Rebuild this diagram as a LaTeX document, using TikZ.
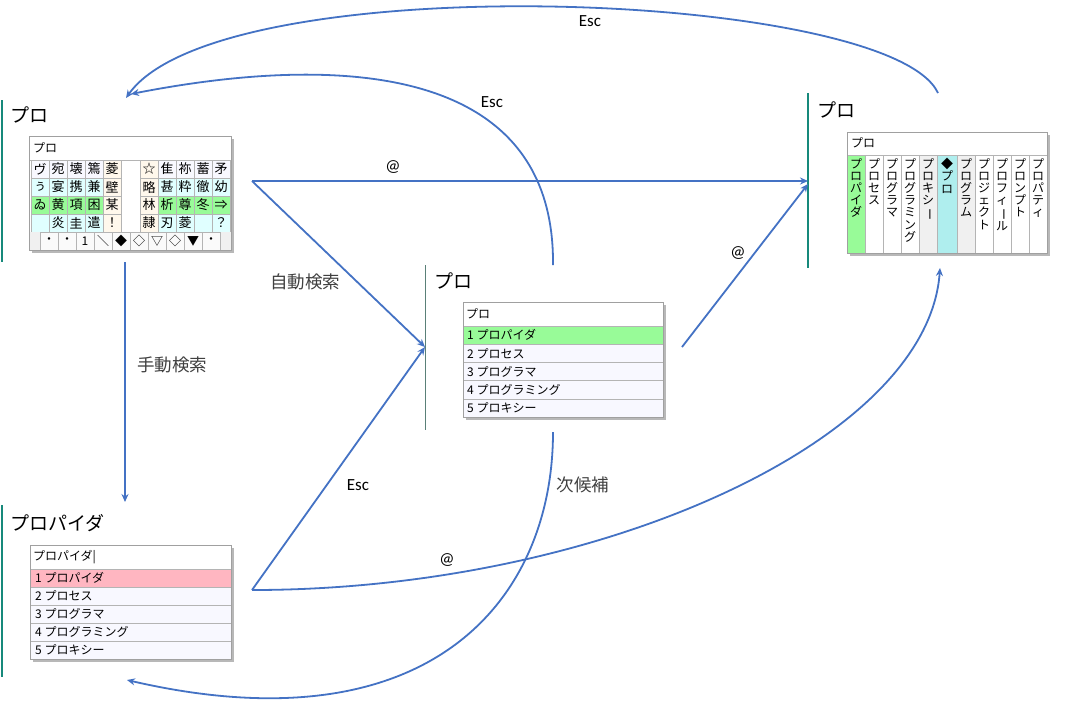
\documentclass[tikz,border=0pt]{standalone}
\usepackage{fontspec}
\usepackage{graphicx}
\setmainfont{Carlito}
\newfontfamily\jpfont{Noto Sans CJK JP}
\usetikzlibrary{calc, arrows.meta}

\definecolor{flowblue}{HTML}{4472C4}
\definecolor{panelteal}{HTML}{17897B}
\definecolor{panelgray}{HTML}{5A8078}
\definecolor{boxgray}{HTML}{A0A0A0}
\definecolor{cellgray}{HTML}{B4B4B4}
\definecolor{labelgray}{HTML}{404040}
\definecolor{rowgreen}{HTML}{98FB98}
\definecolor{rowcyan}{HTML}{E0FFFF}
\definecolor{rowcream}{HTML}{FFF8EC}
\definecolor{rowwhite}{HTML}{F8F8FF}
\definecolor{rowpink}{HTML}{FFB6C1}
\definecolor{rowturq}{HTML}{AFEEEE}
\definecolor{rowgray}{HTML}{F0F0F0}
\newcommand*\tatebar{\rotatebox[origin=c]{-90}{ー}}

\tikzset{
  flow/.style={draw=flowblue, line width=1.8pt, -{Stealth[length=8pt, width=7pt]}},
  keylabel/.style={font=\fontsize{17}{19}\selectfont, text=black},
  jplabel/.style={font=\jpfont\fontsize{17.5}{20}\selectfont, text=labelgray},
  paneltitle/.style={font=\jpfont\fontsize{19}{22}\selectfont, anchor=west, inner sep=0pt},
  panelline/.style={draw=panelteal, line width=1.8pt},
  listbox/.style={draw=boxgray, line width=0.9pt},
  boxshadow/.style={fill=black!28},
  cell/.style={draw=cellgray, line width=0.5pt, minimum width=18pt, minimum height=18pt,
    inner sep=0pt, font=\jpfont\fontsize{13}{13}\selectfont},
  rowtext/.style={font=\jpfont\fontsize{12}{12}\selectfont, anchor=west, inner sep=0pt},
  tatecol/.style={font=\jpfont\fontsize{12}{12.2}\selectfont, align=center, anchor=north, inner sep=0pt},
}

\begin{document}
\begin{tikzpicture}[x=1pt, y=-1pt]
        \useasboundingbox[fill=white] (0,0) rectangle (1067,702);

        % arrow end points
        \coordinate (gridout) at (252,181);
        \coordinate (vertin) at (808,181);
        \coordinate (vertin2) at (808,184);
        \coordinate (listin) at (425,347);
        \coordinate (listout) at (682,347);
        \coordinate (listtop) at (553,265);
        \coordinate (listbot) at (553,432);
        \coordinate (pinkout) at (252,590);
        \coordinate (verttop) at (938,93);
        \coordinate (vertbot) at (940,268);
        \coordinate (gridin) at (126,98);
        \coordinate (gridin2) at (131,94);
        \coordinate (griddown) at (125,262);
        \coordinate (pinkin) at (125,502);
        \coordinate (pinkback) at (127,680);

        % panel 1: character grid
        \draw[panelline] (2,100) -- (2,262);
        \node[paneltitle] (t1) at (10,115) {プロ};
        \fill[boxshadow] (32,139) rectangle (234,253);
        \fill[white] (29,136) rectangle (231,250);
        \node[rowtext] (h1) at (33,148) {プロ};
        \foreach \ch/\bg [count=\i from 0] in {ヴ/rowwhite,宛/rowwhite,壊/rowwhite,篶/rowwhite,菱/rowcream,
            ☆/rowcream,隹/rowwhite,祢/rowwhite,蓄/rowwhite,矛/rowwhite}{
          \pgfmathsetmacro\cx{\i<5 ? 40+18*\i : 59+18*\i}
          \node[cell, fill=\bg] (ga\i) at (\cx,169) {\ch};
        }
        \foreach \ch/\bg [count=\i from 0] in {ぅ/rowcyan,宴/rowcyan,携/rowcyan,兼/rowcyan,壁/rowcream,
            略/rowcream,甚/rowcyan,粋/rowcyan,徹/rowcyan,幼/rowcyan}{
          \pgfmathsetmacro\cx{\i<5 ? 40+18*\i : 59+18*\i}
          \node[cell, fill=\bg] (gb\i) at (\cx,187) {\ch};
        }
        \foreach \ch/\bg [count=\i from 0] in {ゐ/rowgreen,黄/rowgreen,項/rowgreen,困/rowgreen,某/rowcream,
            林/rowcream,析/rowgreen,尊/rowgreen,冬/rowgreen,⇒/rowgreen}{
          \pgfmathsetmacro\cx{\i<5 ? 40+18*\i : 59+18*\i}
          \node[cell, fill=\bg] (gc\i) at (\cx,205) {\ch};
        }
        \foreach \ch/\bg [count=\i from 0] in {/rowcyan,炎/rowcyan,圭/rowcyan,遣/rowcyan,！/rowcream,
            隷/rowcream,刃/rowcyan,菱/rowcyan,/rowcyan,？/rowcyan}{
          \pgfmathsetmacro\cx{\i<5 ? 40+18*\i : 59+18*\i}
          \node[cell, fill=\bg] (gd\i) at (\cx,223) {\ch};
        }
        \fill[rowgray] (29,232) rectangle (231,250);
        \foreach \ch [count=\i from 0] in {・,・,1,＼,◆,◇,▽,◇,▼,・}
          \node[cell, fill=rowgray!35, font=\jpfont\fontsize{12}{12}\selectfont] (ge\i) at (49+18*\i,241) {\ch};
        \draw[cellgray] (29,160) -- (231,160);
        \draw[listbox] (29,136) rectangle (231,250);

        % panel 2: vertical candidates
        \draw[panelline, line width=1.2pt] (808,93) -- (808,268);
        \node[paneltitle] (t2) at (817,110) {プロ};
        \fill[boxshadow] (850,135) rectangle (1050,256);
        \fill[white] (847,132) rectangle (1047,253);
        \node[rowtext] (h2) at (851,143) {プロ};
        \foreach \x/\w/\bg/\word in {847/18/rowgreen/{プ\\ロ\\パ\\イ\\ダ},
            865/18/white/{プ\\ロ\\セ\\ス}, 883/18/white/{プ\\ロ\\グ\\ラ\\マ},
            901/18/white/{プ\\ロ\\グ\\ラ\\ミ\\ン\\グ}, 919/18/rowgray/{プ\\ロ\\キ\\シ\\\tatebar},
            937/20/rowturq/{◆\\プ\\ロ}, 957/18/rowgray/{プ\\ロ\\グ\\ラ\\ム},
            975/18/white/{プ\\ロ\\ジ\\ェ\\ク\\ト}, 993/18/white/{プ\\ロ\\フ\\ィ\\\tatebar\\ル},
            1011/18/white/{プ\\ロ\\ン\\プ\\ト}, 1029/18/white/{プ\\ロ\\パ\\テ\\ィ}}{
          \draw[cellgray, fill=\bg] (\x,155) rectangle (\x+\w,253);
          \node[tatecol] (v\x) at (\x+\w/2,158) {\word};
        }
        \draw[listbox] (847,132) rectangle (1047,253);

        % panel 3: horizontal candidates
        \draw[panelline, draw=panelgray, line width=1pt] (425,265) -- (425,430);
        \node[paneltitle] (t3) at (434,281) {プロ};
        \fill[boxshadow] (466,305) rectangle (666,420);
        \fill[white] (463,302) rectangle (663,417);
        \node[rowtext] (h3) at (466,314) {プロ};
        \foreach \t/\bg [count=\i from 0] in {1 プロパイダ/rowgreen, 2 プロセス/rowwhite,
            3 プログラマ/rowwhite, 4 プログラミング/rowwhite, 5 プロキシー/rowwhite}{
          \draw[cellgray, fill=\bg] (463,326+18.2*\i) rectangle (663,344.2+18.2*\i);
          \node[rowtext] (m\i) at (467,335.1+18.2*\i) {\t};
        }
        \draw[listbox] (463,302) rectangle (663,417);

        % panel 4: selected candidate
        \draw[panelline] (2,505) -- (2,677);
        \node[paneltitle] (t4) at (10,523) {プロパイダ};
        \fill[boxshadow] (33,548) rectangle (234,662);
        \fill[white] (30,545) rectangle (231,659);
        \node[rowtext] (h4) at (33,557) {プロパイダ|};
        \foreach \t/\bg [count=\i from 0] in {1 プロパイダ/rowpink, 2 プロセス/rowwhite,
            3 プログラマ/rowwhite, 4 プログラミング/rowwhite, 5 プロキシー/rowwhite}{
          \draw[cellgray, fill=\bg] (30,569+18*\i) rectangle (231,587+18*\i);
          \node[rowtext] (p\i) at (35,578+18*\i) {\t};
        }
        \draw[listbox] (30,545) rectangle (231,659);

        % transitions
        \draw[flow] (verttop) .. controls (890,-10) and (220,-35) .. (gridin);
        \draw[flow] (listtop) .. controls (555,60) and (330,55) .. (gridin2);
        \draw[flow] (gridout) -- (vertin);
        \draw[flow] (gridout) -- (listin);
        \draw[flow] (griddown) -- (pinkin);
        \draw[flow] (listout) -- (vertin2);
        \draw[flow] (pinkout) -- (listin);
        \draw[flow] (pinkout) .. controls (600,590) and (928,440) .. (vertbot);
        \draw[flow] (listbot) .. controls (553,600) and (430,750) .. (pinkback);

        \node[keylabel] (k1) at (590,21) {Esc};
        \node[keylabel] (k2) at (492,102) {Esc};
        \node[keylabel] (k3) at (393,167) {@};
        \node[jplabel] (k4) at (305,282) {自動検索};
        \node[jplabel] (k5) at (172,365) {手動検索};
        \node[keylabel] (k6) at (738,253) {@};
        \node[keylabel] (k7) at (358,485) {Esc};
        \node[jplabel] (k8) at (583,485) {次候補};
        \node[keylabel] (k9) at (447,560) {@};
    \end{tikzpicture}
\end{document}
